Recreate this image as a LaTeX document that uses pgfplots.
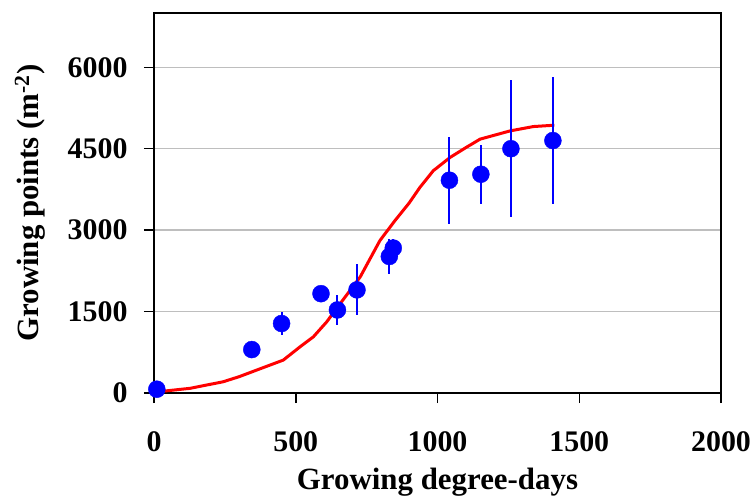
\documentclass[border=0pt]{standalone}
\usepackage{fontspec}
\setmainfont{Liberation Serif}
\usepackage{pgfplots}
\pgfplotsset{compat=1.18}

\definecolor{gridgray}{RGB}{190,190,190}

\pgfplotstableread{
x     y     err
10    70    60
345   800   100
450   1280  220
589   1830  100
647   1530  270
716   1900  470
830   2515  320
844   2670  175
1042  3920  800
1153  4030  545
1259  4500  1260
1407  4650  1170
}\observed

\pgfplotstableread{
x     y
10    20
39    37
127   86
244   207
300   300
362   422
456   606
515   850
562   1034
609   1309
650   1600
727   2135
797   2809
850   3176
900   3500
938   3788
985   4094
1044  4338
1100  4520
1150  4676
1256  4828
1338  4908
1412  4933
}\model

\begin{document}
\begin{tikzpicture}
\begin{axis}[
    scale only axis,
    width=567bp, height=380bp,
    xmin=0, xmax=2000,
    ymin=0, ymax=7000,
    xtick={0,500,...,2000},
    ytick={0,1500,...,6000},
    xtick pos=bottom, ytick pos=left,
    tick align=outside,
    major tick length=10bp,
    tick style={black, line width=1.5bp},
    axis line style={black, line width=2bp},
    ymajorgrids,
    grid style={gridgray, line width=1.5bp},
    /pgf/number format/assume math mode=true,
    /pgf/number format/set thousands separator={},
    tick label style={font=\fontsize{30}{36}\selectfont\bfseries},
    xticklabel style={yshift=-25bp},
    yticklabel style={xshift=-13bp},
    label style={font=\fontsize{31}{37}\selectfont\bfseries},
    xlabel={Growing degree-days},
    ylabel={Growing points (m\textsuperscript{-2})},
    xlabel style={at={(axis description cs:0.5,-0.234)}, anchor=center},
    ylabel style={at={(axis description cs:-0.219,0.5)}, anchor=center},
    clip=false,
]
\path (rel axis cs:-0.2716,-0.2868) rectangle (rel axis cs:1.0617,1.0342);

\addplot[red, line width=3bp, no marks] table[x=x, y=y] {\model};

\addplot[blue, only marks, mark=*, mark size=8.5bp,
    mark options={fill=blue, draw=blue},
    error bars/.cd, y dir=both, y explicit, error mark=none,
    error bar style={blue, line width=2bp}]
    table[x=x, y=y, y error=err] {\observed};
\end{axis}
\end{tikzpicture}
\end{document}
